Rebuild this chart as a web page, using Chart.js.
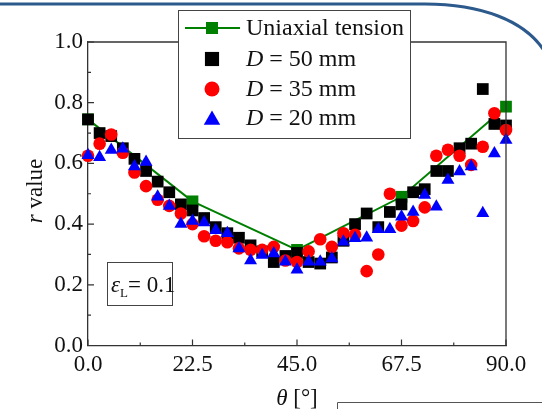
<!DOCTYPE html>
<html><head><meta charset="utf-8">
<script src="https://cdn.jsdelivr.net/npm/chart.js@4/dist/chart.umd.min.js"></script>
<style>html,body{margin:0;padding:0;background:#fff;overflow:hidden}canvas{display:block}</style>
</head><body>
<canvas id="c" width="542" height="409"></canvas>
<script>
// ---------------- data ----------------
const angles = [0,2.5,5,7.5,10,12.5,15,17.5,20,22.5,25,27.5,30,32.5,35,37.5,40,42.5,45,47.5,50,52.5,55,57.5,60,62.5,65,67.5,70,72.5,75,77.5,80,82.5,85,87.5,90];
const uniAngles = [0,22.5,45,67.5,90];
const uniaxial = [0.745,0.475,0.315,0.49,0.787];
const d50 = [0.745,0.70,0.69,0.65,0.615,0.575,0.54,0.505,0.465,0.445,0.42,0.39,0.37,0.355,0.33,0.31,0.275,0.295,0.305,0.275,0.27,0.29,0.345,0.40,0.435,0.39,0.44,0.465,0.505,0.515,0.575,0.575,0.65,0.665,0.845,0.73,0.725];
const d35 = [0.625,0.665,0.695,0.635,0.57,0.525,0.48,0.46,0.435,0.40,0.36,0.345,0.34,0.32,0.315,0.315,0.325,0.28,0.275,0.31,0.35,0.325,0.37,0.365,0.245,0.30,0.50,0.395,0.41,0.455,0.625,0.645,0.625,0.595,0.655,0.765,0.71];
const d20 = [0.627,0.62,0.644,0.648,0.59,0.605,0.49,0.46,0.40,0.41,0.405,0.38,0.37,0.32,0.28,0.298,0.303,0.276,0.25,0.276,0.276,0.287,0.342,0.353,0.355,0.383,0.383,0.424,0.44,0.496,0.457,0.545,0.573,0.59,0.436,0.633,0.677];
const xTicks = [0,22.5,45,67.5,90];
const yTicks = [0,0.2,0.4,0.6,0.8,1.0];
const seriesLabels = ['Uniaxial tension','D = 50 mm','D = 35 mm','D = 20 mm'];
const strainLabel = '0.1';

// ---------------- helpers ----------------
const SERIF = '"Liberation Serif","Times New Roman",serif';
const pts = (xs, ys) => xs.map((x, i) => ({x: x, y: ys[i]}));

function drawSym(ctx, style, color, r, x, y) {
  ctx.fillStyle = color;
  ctx.beginPath();
  if (style === 'rect') {
    const s = Math.SQRT1_2 * r;
    ctx.rect(x - s, y - s, 2 * s, 2 * s);
  } else if (style === 'circle') {
    ctx.arc(x, y, r, 0, Math.PI * 2);
  } else if (style === 'triangle') {
    ctx.moveTo(x, y - r);
    ctx.lineTo(x + r * Math.cos(Math.PI / 6), y + r / 2);
    ctx.lineTo(x - r * Math.cos(Math.PI / 6), y + r / 2);
    ctx.closePath();
  }
  ctx.fill();
}

function drawRich(ctx, parts, x, y, align) {
  let total = 0;
  parts.forEach(p => { ctx.font = (p.italic ? 'italic ' : '') + p.size + 'px ' + SERIF; p.w = ctx.measureText(p.t).width; total += p.w; });
  let cx = align === 'center' ? x - total / 2 : x;
  parts.forEach(p => {
    ctx.font = (p.italic ? 'italic ' : '') + p.size + 'px ' + SERIF;
    ctx.fillText(p.t, cx, y + (p.dy || 0));
    cx += p.w;
  });
}

function labelParts(lbl, size) {
  if (lbl.startsWith('D ')) return [{t: 'D', italic: true, size: size}, {t: lbl.slice(1), size: size}];
  return [{t: lbl, size: size}];
}

const decor = {
  id: 'decor',
  afterDraw(chart) {
    const {ctx, chartArea: a, scales: {x, y}} = chart;
    ctx.save();
    // top/right frame
    ctx.strokeStyle = '#333'; ctx.lineWidth = 1.3;
    ctx.beginPath();
    ctx.moveTo(a.left, a.top); ctx.lineTo(a.right, a.top); ctx.lineTo(a.right, a.bottom);
    ctx.stroke();
    // inward ticks
    ctx.lineWidth = 1.2;
    ctx.beginPath();
    x.ticks.forEach((t, i) => {
      const px = x.getPixelForValue(t.value);
      ctx.moveTo(px, a.bottom); ctx.lineTo(px, a.bottom - 6);
      if (i < x.ticks.length - 1) {
        const pm = x.getPixelForValue((t.value + x.ticks[i + 1].value) / 2);
        ctx.moveTo(pm, a.bottom); ctx.lineTo(pm, a.bottom - 3);
      }
    });
    y.ticks.forEach((t, i) => {
      const py = y.getPixelForValue(t.value);
      ctx.moveTo(a.left, py); ctx.lineTo(a.left + 6, py);
      if (i < y.ticks.length - 1) {
        const pm = y.getPixelForValue((t.value + y.ticks[i + 1].value) / 2);
        ctx.moveTo(a.left, pm); ctx.lineTo(a.left + 3, pm);
      }
    });
    ctx.stroke();

    // axis titles
    ctx.fillStyle = '#111';
    ctx.textBaseline = 'middle';
    drawRich(ctx, [{t: 'θ', italic: true, size: 23}, {t: ' [°]', size: 23}], 297, 399, 'center');
    ctx.save();
    ctx.translate(36, 191);
    ctx.rotate(-Math.PI / 2);
    drawRich(ctx, [{t: 'r', italic: true, size: 23}, {t: ' value', size: 23}], 0, 0, 'center');
    ctx.restore();

    // strain annotation box
    ctx.fillStyle = '#fff';
    ctx.strokeStyle = '#444'; ctx.lineWidth = 1;
    ctx.fillRect(107.5, 262.5, 65, 43);
    ctx.strokeRect(107.5, 262.5, 65, 43);
    ctx.fillStyle = '#111';
    ctx.textBaseline = 'alphabetic';
    drawRich(ctx, [{t: 'ε', italic: true, size: 23}, {t: 'L', size: 13, dy: 5}, {t: '= ' + strainLabel, size: 23}], 111, 292, 'left');

    // legend
    ctx.fillStyle = '#fff';
    ctx.strokeStyle = '#444'; ctx.lineWidth = 1;
    ctx.fillRect(178.5, 10.5, 232, 128);
    ctx.strokeRect(178.5, 10.5, 232, 128);
    const rows = [28, 59, 89, 118];
    const sizes = {rect: 10, circle: 7.5, triangle: 9.5};
    const byLabel = {};
    chart.data.datasets.forEach(ds => { byLabel[ds.label] = ds; });
    seriesLabels.forEach((lbl, i) => {
      const ds = byLabel[lbl];
      const ry = rows[i];
      if (ds.showLine) {
        ctx.strokeStyle = ds.borderColor; ctx.lineWidth = 2;
        ctx.beginPath(); ctx.moveTo(185, ry); ctx.lineTo(240, ry); ctx.stroke();
        drawSym(ctx, ds.pointStyle, ds.pointBackgroundColor, 8.5, 212, ry);
      } else {
        drawSym(ctx, ds.pointStyle, ds.pointBackgroundColor, sizes[ds.pointStyle], 212, ry + (ds.pointStyle === 'triangle' ? 2 : 0));
      }
      ctx.fillStyle = '#111';
      ctx.textBaseline = 'middle';
      drawRich(ctx, labelParts(lbl, 24), 246, ry + 1, 'left');
    });

    // page decorations
    ctx.strokeStyle = '#2c5a8c'; ctx.lineWidth = 3;
    ctx.beginPath();
    ctx.moveTo(0, 4); ctx.lineTo(425, 4);
    ctx.bezierCurveTo(480, 4, 525, 20, 545, 52);
    ctx.stroke();
    ctx.strokeStyle = '#555'; ctx.lineWidth = 1;
    ctx.beginPath();
    ctx.moveTo(337.5, 410); ctx.lineTo(337.5, 402.5); ctx.lineTo(542, 402.5);
    ctx.stroke();
    ctx.restore();
  }
};

new Chart(document.getElementById('c'), {
  type: 'scatter',
  data: {
    datasets: [
      {label: seriesLabels[3], data: pts(angles, d20), pointStyle: 'triangle', pointRadius: 7.5, pointBackgroundColor: '#0000ff', borderColor: '#0000ff', pointBorderWidth: 0, order: 0, clip: false},
      {label: seriesLabels[2], data: pts(angles, d35), pointStyle: 'circle', pointRadius: 6.3, pointBackgroundColor: '#ff0000', borderColor: '#ff0000', pointBorderWidth: 0, order: 1, clip: false},
      {label: seriesLabels[1], data: pts(angles, d50), pointStyle: 'rect', pointRadius: 8.3, pointBackgroundColor: '#000000', borderColor: '#000000', pointBorderWidth: 0, order: 2, clip: false},
      {label: seriesLabels[0], data: pts(uniAngles, uniaxial), showLine: true, borderColor: '#008000', borderWidth: 2, pointStyle: 'rect', pointRadius: 8.3, pointBackgroundColor: '#008000', pointBorderWidth: 0, order: 3, clip: false}
    ]
  },
  options: {
    responsive: false,
    devicePixelRatio: 1,
    animation: false,
    events: [],
    layout: {padding: {top: 42, right: 36, left: 0, bottom: 0}},
    plugins: {legend: {display: false}, tooltip: {enabled: false}},
    scales: {
      x: {
        type: 'linear', min: 0, max: 90,
        afterBuildTicks: s => { s.ticks = xTicks.map(v => ({value: v})); },
        afterFit: s => { s.height = 63.5; },
        grid: {display: false, drawTicks: false},
        border: {display: true, color: '#333', width: 1.3},
        ticks: {padding: 6, color: '#111', font: {family: SERIF, size: 23}, maxRotation: 0, autoSkip: false, callback: v => Number(v).toFixed(1)}
      },
      y: {
        type: 'linear', min: 0, max: 1,
        afterBuildTicks: s => { s.ticks = yTicks.map(v => ({value: v})); },
        afterFit: s => { s.width = 88; },
        grid: {display: false, drawTicks: false},
        border: {display: true, color: '#333', width: 1.3},
        ticks: {padding: 5, color: '#111', font: {family: SERIF, size: 23}, autoSkip: false, callback: v => Number(v).toFixed(1)}
      }
    }
  },
  plugins: [decor]
});
</script>
</body></html>
